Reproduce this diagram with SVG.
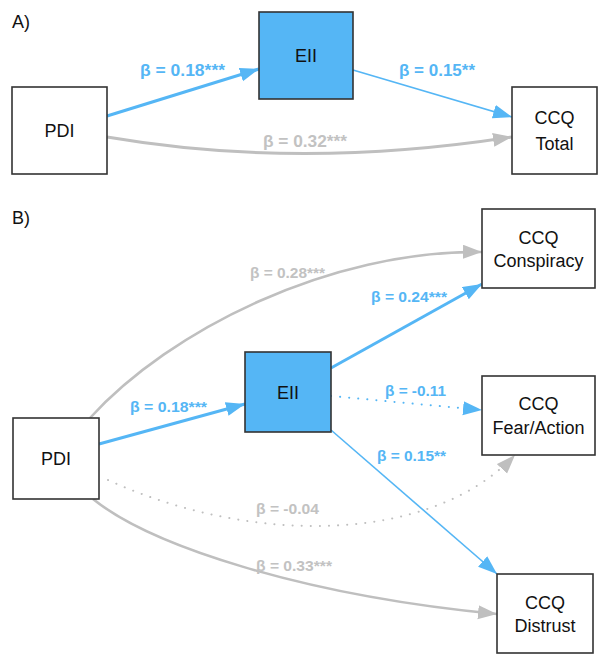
<svg xmlns="http://www.w3.org/2000/svg" width="599" height="656" viewBox="0 0 599 656">
<style>
.box{fill:#fff;stroke:#333;stroke-width:1.6}
.med{fill:#55b6f5;stroke:#333;stroke-width:1.6}
.nt{font-family:"Liberation Sans",Arial,sans-serif;font-size:18px;fill:#111;text-anchor:middle}
.pl{font-family:"Liberation Sans",Arial,sans-serif;font-size:18px;fill:#111}
.lb{font-family:"Liberation Sans",Arial,sans-serif;font-weight:bold;font-size:16.5px;fill:#55b6f5}
.lg{font-family:"Liberation Sans",Arial,sans-serif;font-weight:bold;font-size:16.5px;fill:#c2c2c2}
.bs{font-size:15px}
.eb{fill:none;stroke:#55b6f5}
.eg{fill:none;stroke:#bfbfbf}
.dot{stroke-dasharray:0.1 9;stroke-linecap:round;stroke-width:2}
</style>
<defs>
<marker id="ab" markerUnits="userSpaceOnUse" markerWidth="20" markerHeight="15" refX="19" refY="7" orient="auto"><path d="M0,0 L19,7 L0,14 z" fill="#55b6f5"/></marker>
<marker id="ag" markerUnits="userSpaceOnUse" markerWidth="20" markerHeight="15" refX="19" refY="7" orient="auto"><path d="M0,0 L19,7 L0,14 z" fill="#bfbfbf"/></marker>
</defs>
<text class="pl" x="12" y="28">A)</text>
<text class="pl" x="12" y="224">B)</text>
<g id="connectors">
<path class="eb" stroke-width="3.2" d="M107,116 L259,69" marker-end="url(#ab)"/>
<path class="eb" stroke-width="1.6" d="M353,70 L512,117" marker-end="url(#ab)"/>
<path class="eg" stroke-width="3" d="M107,137 Q300,170 512,137" marker-end="url(#ag)"/>
<path class="eb" stroke-width="3" d="M99,444 L245,404" marker-end="url(#ab)"/>
<path class="eb" stroke-width="3" d="M331,368 L482,284" marker-end="url(#ab)"/>
<path class="eb dot" d="M331,396 L482,410" marker-end="url(#ab)"/>
<path class="eb" stroke-width="1.6" d="M331,430 L497,574" marker-end="url(#ab)"/>
<path class="eg" stroke-width="2.6" d="M90,418 C170,330 330,250 482,252" marker-end="url(#ag)"/>
<path class="eg dot" d="M108,480 C250,545 430,545 515,455" marker-end="url(#ag)"/>
<path class="eg" stroke-width="2.6" d="M93,499 C150,545 300,595 497,614" marker-end="url(#ag)"/>
</g>
<g id="labels">
<text class="lb" x="140" y="76" textLength="85" lengthAdjust="spacingAndGlyphs">β = 0.18***</text>
<text class="lb" x="399" y="76" textLength="76" lengthAdjust="spacingAndGlyphs">β = 0.15**</text>
<text class="lg" x="263" y="147" textLength="84" lengthAdjust="spacingAndGlyphs">β = 0.32***</text>
<text class="lg bs" x="250" y="277.5" textLength="75" lengthAdjust="spacingAndGlyphs">β = 0.28***</text>
<text class="lb bs" x="371" y="301.5" textLength="76" lengthAdjust="spacingAndGlyphs">β = 0.24***</text>
<text class="lb bs" x="130" y="411.5" textLength="77" lengthAdjust="spacingAndGlyphs">β = 0.18***</text>
<text class="lb bs" x="385" y="395.5" textLength="61" lengthAdjust="spacingAndGlyphs">β = -0.11</text>
<text class="lb bs" x="377" y="460.5" textLength="69" lengthAdjust="spacingAndGlyphs">β = 0.15**</text>
<text class="lg bs" x="256" y="513.5" textLength="63" lengthAdjust="spacingAndGlyphs">β = -0.04</text>
<text class="lg bs" x="256" y="570.5" textLength="76" lengthAdjust="spacingAndGlyphs">β = 0.33***</text>
</g>
<g id="A_PDI"><rect class="box" x="12" y="87" width="95" height="87"/><text class="nt" x="59.5" y="136.5">PDI</text></g>
<g id="A_EII"><rect class="med" x="259" y="12" width="94" height="87"/><text class="nt" x="306" y="61.5">EII</text></g>
<g id="A_CCQ_Total"><rect class="box" x="512" y="87" width="85" height="87"/><text class="nt" x="554.5" y="123.5">CCQ</text><text class="nt" x="554.5" y="149.5">Total</text></g>
<g id="B_PDI"><rect class="box" x="13" y="418" width="86" height="81"/><text class="nt" x="56" y="464.5">PDI</text></g>
<g id="B_EII"><rect class="med" x="245" y="352" width="86" height="80"/><text class="nt" x="288" y="398.5">EII</text></g>
<g id="B_CCQ_Conspiracy"><rect class="box" x="482" y="209" width="113" height="79"/><text class="nt" x="538.5" y="243.5">CCQ</text><text class="nt" x="538.5" y="266.5">Conspiracy</text></g>
<g id="B_CCQ_Fear"><rect class="box" x="482" y="376" width="113" height="79"/><text class="nt" x="538.5" y="409.5">CCQ</text><text class="nt" x="538.5" y="433.5">Fear/Action</text></g>
<g id="B_CCQ_Distrust"><rect class="box" x="497" y="574" width="96" height="79"/><text class="nt" x="545" y="608.5">CCQ</text><text class="nt" x="545" y="631.5">Distrust</text></g>
</svg>
